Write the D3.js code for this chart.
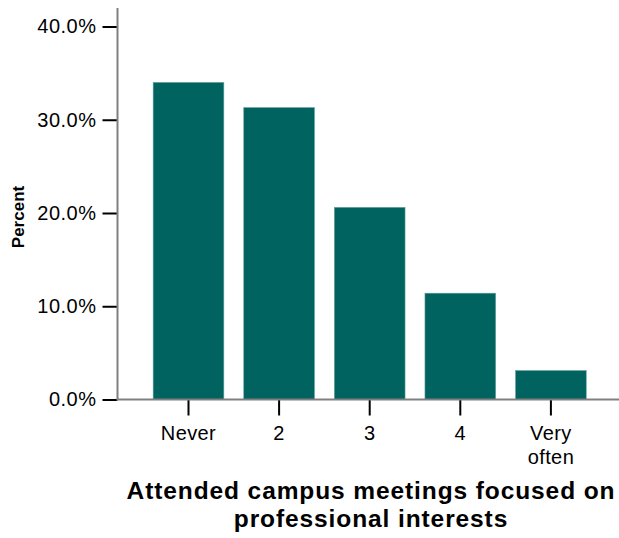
<!DOCTYPE html>
<html><head><meta charset="utf-8">
<script src="https://cdn.jsdelivr.net/npm/d3@7"></script>
<style>body{margin:0;background:#fff}svg{display:block}text{font-family:"Liberation Sans",Arial,sans-serif}</style>
</head><body>
<svg id="c" width="619" height="538"></svg>
<script>
const categories = ["Never", "2", "3", "4", "Very often"];
const values = [34.0, 31.3, 20.6, 11.4, 3.1];
const yTicks = [0, 10, 20, 30, 40];
const yLabel = "Percent";
const xTitle = ["Attended campus meetings focused on", "professional interests"];

const svg = d3.select("#c");
const y = d3.scaleLinear().domain([0, 40]).range([399.5, 26.5]);
const x = d3.scaleBand().domain(categories).range([143.2, 596.2]).paddingInner(0.22).paddingOuter(0.11);

// bars
svg.append("g").selectAll("rect").data(values).join("rect")
  .attr("x", (d, i) => x(categories[i]))
  .attr("width", x.bandwidth())
  .attr("y", d => y(d))
  .attr("height", d => y(0) - y(d))
  .attr("fill", "#00635f")
  .attr("stroke", "#5e9e9b").attr("stroke-width", 0.6);

// y axis
const ya = svg.append("g").attr("transform", "translate(117.5,0)")
  .call(d3.axisLeft(y).tickValues(yTicks).tickSize(15).tickPadding(6).tickFormat(d => d.toFixed(1) + "%"));
ya.select(".domain").remove();
ya.selectAll(".tick line").attr("stroke", "#000").attr("stroke-width", 2);
ya.selectAll(".tick text").attr("font-size", 20).attr("fill", "#000")
  .style("font-family", "Liberation Sans, Arial, sans-serif").style("letter-spacing", "0.5px");
svg.append("line").attr("x1", 117.5).attr("x2", 117.5).attr("y1", 8).attr("y2", y(0))
  .attr("stroke", "#808080").attr("stroke-width", 2);

// x axis
const xa = svg.append("g").attr("transform", `translate(0,${y(0)})`)
  .call(d3.axisBottom(x).tickSize(16).tickPadding(6).tickFormat(() => ""));
xa.select(".domain").remove();
xa.selectAll(".tick line").attr("stroke", "#000").attr("stroke-width", 2);
svg.append("line").attr("x1", 116.5).attr("x2", 619).attr("y1", y(0)).attr("y2", y(0))
  .attr("stroke", "#808080").attr("stroke-width", 2);
xa.selectAll(".tick").each(function(d) {
  const words = d === "Very often" ? ["Very", "often"] : [d];
  const t = d3.select(this).append("text").attr("fill", "#000").attr("font-size", 20)
    .style("font-family", "Liberation Sans, Arial, sans-serif").style("letter-spacing", "0.4px")
    .attr("text-anchor", "middle").attr("y", 440 - 399.5);
  words.forEach((w, i) => t.append("tspan").attr("x", 0).attr("dy", i === 0 ? 0 : 23.5).text(w));
});

// y label
svg.append("text").attr("transform", "translate(24,217) rotate(-90)")
  .attr("text-anchor", "middle").attr("font-weight", "bold").attr("font-size", 17).text(yLabel);

// x title
const tt = svg.append("text").attr("text-anchor", "middle").attr("font-weight", "bold").attr("font-size", 24.5)
  .style("letter-spacing", "0.9px");
xTitle.forEach((w, i) => tt.append("tspan").attr("x", 371).attr("y", 499 + i * 27.5).text(w));
</script>
</body></html>
